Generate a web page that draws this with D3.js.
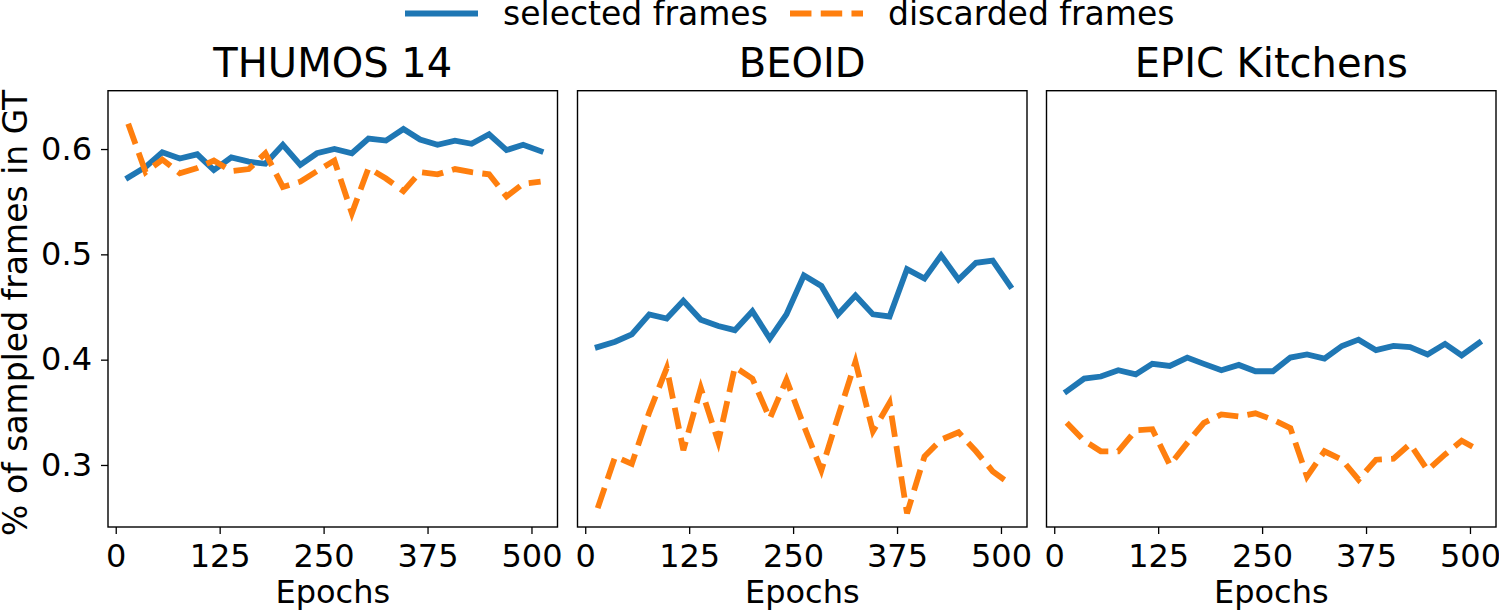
<!DOCTYPE html>
<html>
<head>
<meta charset="utf-8">
<script src="https://cdn.jsdelivr.net/npm/d3@7"></script>
<style>
  body { margin: 0; background: white; }
  svg { display: block; font-family: 'DejaVu Sans', sans-serif; }
</style>
</head>
<body>
<svg width="1499" height="613"></svg>
<script>
// data
const epochs = [15, 36, 56, 77, 98, 118, 139, 160, 180, 201, 222, 242, 263,
  284, 304, 325, 346, 366, 387, 408, 428, 449, 470, 490, 511]
const xTicks = [0, 125, 250, 375, 500]
const yTicks = [0.3, 0.4, 0.5, 0.6]

const thumosSelected = [0.573, 0.583, 0.597, 0.591, 0.595, 0.580, 0.592, 0.588, 0.586, 0.604,
  0.585, 0.596, 0.600, 0.596, 0.610, 0.608, 0.619, 0.609, 0.604, 0.608, 0.605, 0.614, 0.599, 0.604, 0.598]
const thumosDiscarded = [0.624, 0.578, 0.590, 0.577, 0.582, 0.589, 0.579, 0.581, 0.596, 0.564,
  0.569, 0.579, 0.589, 0.539, 0.582, 0.572, 0.560, 0.578, 0.576, 0.581, 0.578, 0.576, 0.555, 0.567, 0.569]

const beoidSelected = [0.412, 0.417, 0.424, 0.443, 0.439, 0.456, 0.438, 0.432, 0.428, 0.446,
  0.420, 0.443, 0.480, 0.470, 0.443, 0.461, 0.443, 0.441, 0.486, 0.477, 0.499, 0.476, 0.492, 0.494, 0.470]
const beoidDiscarded = [0.259, 0.308, 0.301, 0.350, 0.392, 0.314, 0.373, 0.322, 0.393, 0.382,
  0.344, 0.381, 0.337, 0.295, 0.346, 0.398, 0.332, 0.359, 0.254, 0.308, 0.324, 0.331, 0.313, 0.294, 0.282]

const epicSelected = [0.370, 0.382, 0.384, 0.390, 0.386, 0.396, 0.394, 0.402, 0.396, 0.390,
  0.395, 0.389, 0.389, 0.402, 0.405, 0.401, 0.413, 0.419, 0.409, 0.413, 0.412, 0.405, 0.415, 0.404, 0.416]
const epicDiscarded = [0.340, 0.323, 0.313, 0.313, 0.333, 0.334, 0.300, 0.321, 0.340, 0.348,
  0.346, 0.349, 0.343, 0.335, 0.289, 0.313, 0.305, 0.286, 0.305, 0.306, 0.320, 0.295, 0.310, 0.323, 0.314]

const panels = [
  { title: 'THUMOS 14', selected: thumosSelected, discarded: thumosDiscarded },
  { title: 'BEOID', selected: beoidSelected, discarded: beoidDiscarded },
  { title: 'EPIC Kitchens', selected: epicSelected, discarded: epicDiscarded },
]

const blue = '#1f77b4'
const orange = '#ff7f0e'
const lw = 5.8
const dash = `${3.7 * lw},${1.6 * lw}`

const svg = d3.select('svg')
const plotTop = 90.7, plotBottom = 527, panelW = 449.5
const lefts = [108, 577.5, 1046.5]

const y = d3.scaleLinear().domain([0.2411, 0.6554]).range([plotBottom, plotTop])

panels.forEach((p, pi) => {
  const left = lefts[pi]
  const x = d3.scaleLinear().domain([-9.3, 531.3]).range([left, left + panelW])
  const g = svg.append('g')

  const line = d3.line().x((d, i) => x(epochs[i])).y(d => y(d))

  g.append('path').datum(p.selected)
    .attr('d', line)
    .attr('fill', 'none')
    .attr('stroke', blue)
    .attr('stroke-width', lw)
    .attr('stroke-linecap', 'square')
  g.append('path').datum(p.discarded)
    .attr('d', line)
    .attr('fill', 'none')
    .attr('stroke', orange)
    .attr('stroke-width', lw)
    .attr('stroke-dasharray', dash)

  // frame
  g.append('rect')
    .attr('x', left).attr('y', plotTop)
    .attr('width', panelW).attr('height', plotBottom - plotTop)
    .attr('fill', 'none').attr('stroke', 'black').attr('stroke-width', 1.4)

  const xAxis = g.append('g')
    .attr('transform', `translate(0,${plotBottom})`)
    .call(d3.axisBottom(x).tickValues(xTicks).tickSize(7).tickPadding(10).tickSizeOuter(0))
  xAxis.select('.domain').remove()
  xAxis.selectAll('line').attr('stroke-width', 1.3)
  xAxis.selectAll('text').attr('font-size', 32).attr('fill', 'black')
    .attr('font-family', 'DejaVu Sans')

  if (pi === 0) {
    const yAxis = g.append('g')
      .attr('transform', `translate(${left},0)`)
      .call(d3.axisLeft(y).tickValues(yTicks).tickSize(7).tickPadding(9)
        .tickFormat(d3.format('.1f')).tickSizeOuter(0))
    yAxis.select('.domain').remove()
    yAxis.selectAll('line').attr('stroke-width', 1.3)
    yAxis.selectAll('text').attr('font-size', 32).attr('fill', 'black')
      .attr('font-family', 'DejaVu Sans')
  }

  g.append('text')
    .attr('x', left + panelW / 2).attr('y', 77)
    .attr('text-anchor', 'middle')
    .attr('font-size', 40)
    .text(p.title)

  g.append('text')
    .attr('x', left + panelW / 2).attr('y', 603)
    .attr('text-anchor', 'middle')
    .attr('font-size', 32)
    .text('Epochs')
})

svg.append('text')
  .attr('transform', `translate(27,${(plotTop + plotBottom) / 2 + 4}) rotate(-90)`)
  .attr('text-anchor', 'middle')
  .attr('font-size', 33)
  .text('% of sampled frames in GT')

// legend
const legend = svg.append('g')
const legendItems = [
  { label: 'selected frames', color: blue, dash: null, x0: 405 },
  { label: 'discarded frames', color: orange, dash: dash, x0: 790 },
]
legendItems.forEach(it => {
  legend.append('line')
    .attr('x1', it.x0).attr('x2', it.x0 + 73)
    .attr('y1', 13.5).attr('y2', 13.5)
    .attr('stroke', it.color).attr('stroke-width', lw)
    .attr('stroke-dasharray', it.dash)
  legend.append('text')
    .attr('x', it.x0 + 98).attr('y', 25)
    .attr('font-size', 33)
    .text(it.label)
})
</script>
</body>
</html>
